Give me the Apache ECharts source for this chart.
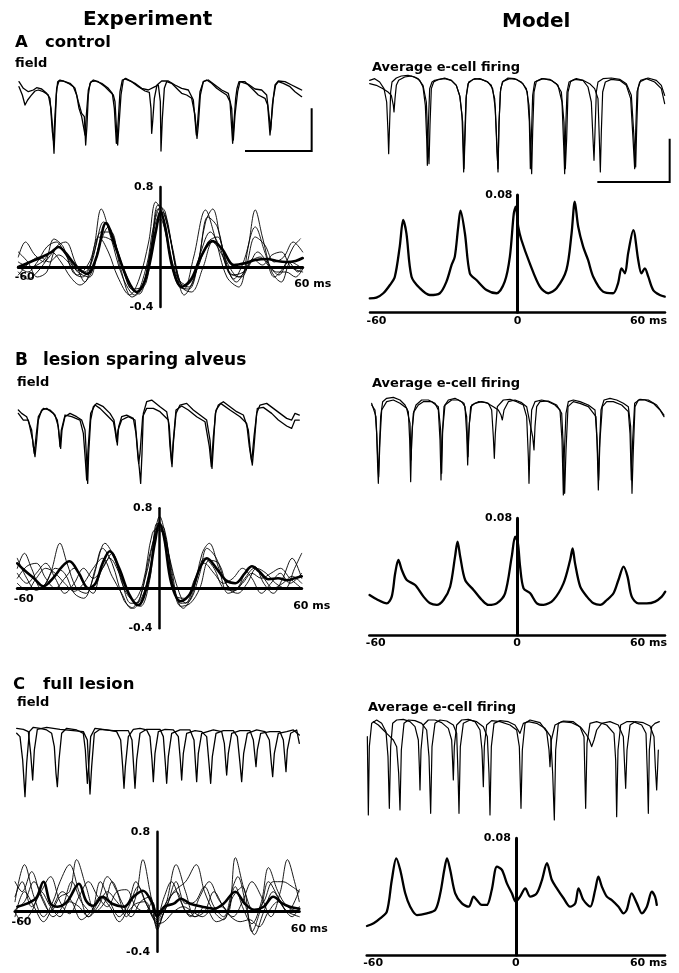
<!DOCTYPE html>
<html>
<head>
<meta charset="utf-8">
<script src="https://cdn.jsdelivr.net/npm/echarts@6/dist/echarts.min.js"></script>
<style>
html,body{margin:0;padding:0;background:#fff}
#fig{width:679px;height:973px}
</style>
</head>
<body>
<div id="fig"></div>
<script>
// ---------- tick labels ----------
const LAG_TICKS = [-60, 0, 60];          // ms
const EXP_Y_TICKS = [-0.4, 0.8];         // correlation coefficient
const MODEL_Y_TICKS = [0.08];            // firing probability

// ---------- A control: experiment, field potential (ms, mV) ----------
const EXP_A_FIELD_1 = [[3,-0.15],[5.5,-0.4],[7.5,-0.7],[9.5,-0.55],[12,-0.42],[15,-0.28],[17.5,-0.25],[21.25,-0.3],[25,-0.4],[27,-0.8],[28.25,-1.4],[29.25,-2.15],[30,-1.4],[31,-0.4],[32,0],[33.75,0.05],[37.5,0],[41.25,-0.05],[45,-0.2],[47.5,-0.6],[50,-0.95],[52,-1.05],[53,-1.9],[54,-1.3],[55,-0.4],[56.25,-0.05],[58.75,0.05],[62.5,0],[67.5,-0.15],[71.25,-0.3],[73.75,-0.4],[75,-0.6],[76.25,-1.5],[77,-1.9],[78,-1.3],[79.5,-0.4],[81.25,0.05],[83,0.1],[87.5,0],[90,-0.05],[95,-0.2],[100,-0.25],[105,-0.15],[107.5,-0.1],[109,-0.6],[109.5,-2.08],[110.5,-1.1],[112,-0.2],[113.75,0],[117.5,-0.05],[122.5,-0.25],[125,-0.35],[128.75,-0.4],[132.5,-0.5],[135,-1.0],[136.5,-1.7],[137.5,-1.3],[139,-0.4],[141.25,0],[143.75,0.05],[147.5,-0.05],[151.25,-0.2],[155,-0.3],[158.75,-0.4],[161.25,-0.6],[163.25,-1.85],[164.25,-1.2],[165.5,-0.5],[166.5,-0.2],[168,0],[172.5,0],[177.5,-0.2],[182.5,-0.4],[187.5,-0.5],[189.5,-0.7],[191.25,-1.6],[192,-1.3],[193.75,-0.5],[195.5,-0.1],[197.5,0],[201.25,-0.05],[206.25,-0.15],[210,-0.3],[215,-0.45]];
const EXP_A_FIELD_2 = [[3,0],[6.25,-0.2],[10,-0.3],[13.75,-0.25],[16.25,-0.18],[20,-0.22],[23.75,-0.35],[26.25,-0.5],[28,-1.5],[29,-1.8],[30,-1.0],[31.25,-0.2],[33,0.02],[36.25,0.02],[40,-0.05],[43.75,-0.15],[46.25,-0.4],[48,-0.8],[50,-1.05],[51.5,-1.1],[52.5,-1.6],[53.5,-1.0],[55,-0.25],[57,0],[60,0.02],[65,-0.05],[70,-0.2],[73,-0.35],[74.5,-0.8],[76,-1.85],[77,-1.45],[78.75,-0.3],[80.5,0.05],[82.5,0.08],[87.5,0],[92.5,-0.15],[97.5,-0.28],[100.75,-0.32],[102,-0.8],[102.5,-1.55],[103.25,-1.2],[104.5,-0.5],[106.5,-0.1],[110,0.02],[115,0.02],[120,-0.1],[125,-0.2],[130,-0.25],[133.75,-0.55],[136,-1.6],[137,-1.2],[138.75,-0.3],[141.25,0],[145,0.05],[150,-0.1],[155,-0.25],[160,-0.35],[162.5,-0.8],[163.75,-1.75],[165,-1.0],[167,-0.3],[168.75,0],[175,-0.08],[180,-0.22],[185,-0.25],[188.75,-0.4],[190.5,-1.0],[191.75,-1.45],[193,-0.7],[195,-0.1],[197.5,0.02],[202.5,0],[207.5,-0.1],[212.5,-0.2],[215,-0.25]];
const EXP_A_BAR = [[172.5,-2.08],[222.5,-2.08],[222.5,-0.8]];

// ---------- A control: model, average e-cell firing ----------
const MODEL_A_FIELD_1 = [[1.25,-0.05],[5,0],[8.75,-0.1],[12,-0.3],[14,-0.7],[15,-1.6],[15.5,-2.25],[16.25,-1.3],[17,-0.4],[18,-0.1],[21.25,0.02],[25,0.08],[30,0.1],[35,0.05],[38.75,-0.05],[41.25,-0.25],[43,-0.8],[44,-1.8],[44.5,-2.6],[45.25,-1.4],[46.25,-0.3],[48,-0.1],[50,-0.05],[53.75,-0.02],[57.5,0.02],[62.5,-0.05],[66.25,-0.2],[68.75,-0.5],[70.5,-1.1],[71.25,-2.1],[71.75,-2.8],[72.5,-1.8],[73.5,-0.6],[75,-0.15],[78.75,-0.02],[83.75,0],[88.75,-0.08],[92.5,-0.2],[95,-0.6],[96.5,-1.8],[97.5,-2.8],[98.25,-1.4],[99.25,-0.4],[100.75,-0.1],[105,0.02],[110,0],[115,-0.1],[118.75,-0.3],[120.75,-0.8],[122,-2.0],[122.75,-2.85],[123.5,-1.6],[124.5,-0.4],[126.25,-0.08],[131.25,0],[137.5,-0.05],[142.5,-0.2],[145.5,-0.7],[146.75,-2.0],[147.5,-2.85],[148.25,-1.5],[149.25,-0.4],[150.75,-0.1],[155,-0.02],[161.25,-0.05],[166.25,-0.15],[170,-0.3],[172.5,-0.6],[173.5,-1.8],[174.25,-2.8],[175,-1.6],[176,-0.4],[178,-0.1],[182.5,-0.02],[188.75,-0.05],[193.75,-0.2],[197,-0.6],[198.75,-1.8],[200,-2.7],[200.75,-1.6],[201.75,-0.4],[203.75,-0.1],[208.75,0],[215,-0.1],[220,-0.3],[222.5,-0.75]];
const MODEL_A_FIELD_2 = [[1.25,-0.15],[6.25,-0.2],[11.25,-0.3],[15,-0.4],[17.5,-0.5],[19,-0.8],[19.5,-1.0],[20.25,-0.6],[21.25,-0.2],[23,-0.05],[27.5,0.05],[32.5,0.08],[37.5,0],[41.25,-0.2],[43.75,-0.7],[45,-2.0],[45.75,-2.55],[46.5,-1.4],[47.5,-0.3],[49.25,-0.1],[53,-0.02],[57.5,0],[62.5,-0.05],[66.25,-0.2],[69,-0.55],[71,-1.3],[72,-2.7],[72.75,-1.8],[73.75,-0.5],[75.5,-0.1],[80,0],[85,-0.02],[90,-0.1],[93.5,-0.3],[95.5,-0.9],[96.75,-2.2],[97.5,-2.7],[98.25,-1.3],[99.5,-0.3],[101.25,-0.08],[106.25,0],[111.25,-0.02],[116.25,-0.15],[119.5,-0.4],[121,-1.3],[121.75,-2.7],[122.5,-1.8],[123.5,-0.5],[125,-0.1],[130,0],[136.25,-0.02],[141.25,-0.15],[145,-0.4],[147,-1.3],[148,-2.7],[149,-1.8],[150,-0.4],[152,-0.08],[156.25,0],[161.25,-0.05],[165,-0.25],[167.5,-0.7],[168.75,-1.8],[169.5,-2.45],[170.25,-1.6],[171.25,-0.4],[172.5,-0.1],[176.25,0],[182.5,0.02],[188.75,-0.02],[193.75,-0.15],[197.5,-0.5],[199.25,-1.6],[200.75,-2.65],[201.5,-1.5],[202.5,-0.3],[204.5,-0.05],[210,0.02],[216.25,-0.05],[220,-0.2],[222.5,-0.5]];
const MODEL_A_BAR = [[172,-3.1],[226.25,-3.1],[226.25,-1.8]];

// ---------- A control: cross-correlograms (lag ms, r) ----------
const EXP_A_XC_MEAN = [[-60,0.0],[-55,0.05],[-50,0.1],[-46,0.15],[-43,0.2],[-40,0.14],[-36,0.02],[-31,-0.07],[-27,0.1],[-23,0.44],[-19,0.2],[-14,-0.12],[-10,-0.25],[-6,-0.1],[-2,0.35],[0,0.55],[2,0.4],[5,0.0],[9,-0.2],[13,-0.12],[17,0.1],[22,0.26],[26,0.18],[31,0.02],[36,0.04],[40,0.07],[45,0.08],[49,0.06],[53,0.05],[57,0.06],[60,0.09]];
const EXP_A_XC_1 = [[-60,0.15],[-56,0.05],[-52,-0.1],[-48,-0.05],[-44,0.2],[-40,0.25],[-36,0.05],[-32,-0.15],[-28,0.2],[-25,0.58],[-21,0.3],[-16,-0.1],[-11,-0.28],[-6,0.0],[-3,0.4],[0,0.6],[3,0.4],[7,-0.05],[10,-0.22],[14,0.1],[19,0.57],[23,0.3],[28,-0.1],[33,-0.2],[37,0.2],[40,0.57],[43,0.3],[47,-0.05],[51,-0.15],[55,0.05],[59,0.0]];
const EXP_A_XC_2 = [[-60,0.1],[-57,0.25],[-53,0.12],[-49,0.05],[-45,0.28],[-41,0.2],[-37,-0.05],[-33,-0.1],[-29,0.05],[-25,0.35],[-21,0.35],[-17,0.0],[-12,-0.3],[-8,-0.22],[-4,0.2],[-1,0.62],[2,0.55],[6,0.05],[10,-0.28],[15,-0.05],[19,0.45],[22,0.58],[26,0.2],[31,-0.12],[35,0.05],[40,0.4],[44,0.15],[48,-0.1],[52,0.0],[56,0.2],[59,0.28]];
const EXP_A_XC_3 = [[-60,-0.05],[-56,-0.12],[-52,-0.05],[-47,0.1],[-43,0.2],[-39,0.1],[-35,-0.05],[-30,-0.1],[-26,0.2],[-22,0.4],[-18,0.15],[-13,-0.2],[-9,-0.27],[-5,0.05],[-2,0.45],[1,0.55],[4,0.3],[8,-0.15],[12,-0.2],[17,0.15],[21,0.35],[25,0.2],[29,-0.05],[34,-0.1],[38,0.05],[42,0.1],[46,0.0],[50,-0.08],[54,0.05],[58,-0.05],[60,0.0]];
const EXP_A_XC_4 = [[-60,0.05],[-55,0.0],[-50,0.05],[-46,0.15],[-42,0.05],[-38,-0.1],[-34,-0.18],[-29,-0.05],[-24,0.3],[-20,0.25],[-15,-0.05],[-10,-0.25],[-6,-0.15],[-3,0.3],[0,0.48],[3,0.25],[7,-0.1],[11,-0.18],[15,-0.05],[20,0.25],[24,0.3],[28,0.05],[33,-0.1],[37,0.0],[41,0.15],[45,0.05],[49,-0.05],[53,-0.05],[57,-0.1],[60,-0.02]];
const EXP_A_XC_5 = [[-60,0.0],[-56,-0.05],[-52,0.05],[-48,0.2],[-44,0.25],[-40,0.12],[-36,-0.02],[-32,-0.05],[-28,0.15],[-24,0.45],[-20,0.3],[-16,0.0],[-12,-0.22],[-8,-0.2],[-4,0.15],[-1,0.58],[2,0.5],[5,0.2],[9,-0.2],[13,-0.25],[18,0.0],[22,0.25],[26,0.12],[30,-0.08],[35,-0.05],[39,0.08],[43,0.02],[47,0.12],[51,0.15],[55,0.0],[60,-0.05]];
const EXP_A_XC_6 = [[-60,-0.08],[-55,0.05],[-51,0.1],[-47,0.05],[-43,0.12],[-39,0.05],[-35,-0.08],[-30,0.05],[-26,0.3],[-22,0.15],[-18,-0.1],[-13,-0.28],[-9,-0.12],[-5,0.25],[-2,0.65],[1,0.52],[4,0.1],[8,-0.2],[12,-0.22],[16,0.05],[20,0.5],[24,0.4],[28,0.0],[32,-0.15],[36,0.0],[40,0.3],[44,0.22],[48,0.05],[52,0.1],[56,0.25],[60,0.15]];
const MODEL_A_XC = [[-60.1,0.0095],[-57.4,0.01],[-54.6,0.013],[-51.9,0.0186],[-49.9,0.0243],[-47.9,0.0448],[-46.5,0.063],[-45.2,0.054],[-43.1,0.0243],[-39.7,0.0164],[-35.7,0.0118],[-31.6,0.013],[-28.9,0.0209],[-26.8,0.0323],[-25.5,0.038],[-24.1,0.0584],[-23.2,0.0693],[-21.4,0.0539],[-19.4,0.0266],[-16.7,0.022],[-12.6,0.0152],[-8.5,0.013],[-5.2,0.0209],[-3.1,0.038],[-1.5,0.0675],[-0.7,0.072],[0.3,0.0584],[1.6,0.0493],[5.0,0.0334],[9.1,0.0175],[12.5,0.013],[15.9,0.0164],[19.9,0.0289],[22.0,0.0539],[23.3,0.0755],[24.7,0.0584],[26.7,0.0448],[28.7,0.0357],[30.8,0.0243],[34.8,0.0141],[38.9,0.013],[40.9,0.0198],[42.3,0.03],[43.7,0.0266],[45.0,0.0402],[47.1,0.0561],[49.1,0.0357],[50.4,0.0266],[51.8,0.03],[53.2,0.0243],[55.2,0.0152],[57.9,0.0118],[59.9,0.0107]];

// ---------- B lesion sparing alveus ----------
const EXP_B_FIELD_1 = [[13.75,-0.2],[16.25,-0.3],[20,-0.4],[23.75,-0.8],[25,-1.3],[26.25,-1.6],[27.5,-1.1],[28.75,-0.5],[31.25,-0.2],[35,-0.15],[40,-0.3],[43,-0.5],[44.5,-1.0],[45.5,-1.35],[46.5,-0.8],[48.75,-0.4],[52.5,-0.3],[57.5,-0.4],[61.25,-0.5],[63.75,-0.8],[65,-1.7],[65.75,-2.4],[66.5,-1.5],[68,-0.5],[70,-0.1],[72.5,0],[77.5,-0.1],[82.5,-0.3],[85.5,-0.5],[87,-0.9],[88,-1.25],[89,-0.7],[91.25,-0.4],[95,-0.35],[100,-0.45],[102,-0.9],[103.25,-1.5],[104.5,-1.95],[105.5,-2.4],[106.5,-1.5],[107.5,-0.3],[110,0.05],[113.75,0.1],[120,-0.1],[125,-0.25],[127,-0.7],[128.25,-1.5],[129,-1.9],[130,-1.2],[132,-0.3],[135,-0.05],[140,0],[145,-0.2],[150,-0.35],[155,-0.5],[157.5,-1.1],[159,-1.95],[160,-1.3],[161.5,-0.3],[163.75,-0.05],[167.5,0.05],[172.5,-0.1],[177.5,-0.25],[182.5,-0.35],[186.25,-0.8],[188,-1.5],[189.25,-1.85],[190.5,-1.3],[192.5,-0.3],[195,-0.05],[200,0],[205,-0.15],[210,-0.3],[215,-0.45],[218.75,-0.5],[221.25,-0.3],[224.5,-0.35]];
const EXP_B_FIELD_2 = [[13.75,-0.3],[17.5,-0.5],[21.25,-0.5],[24.5,-1.1],[25.75,-1.5],[27,-1.0],[28.75,-0.4],[32.5,-0.15],[37.5,-0.2],[41.25,-0.35],[43.75,-0.7],[45,-1.3],[46,-0.8],[48.75,-0.35],[53.75,-0.4],[60,-0.5],[62.5,-0.9],[64,-1.7],[65,-2.3],[66,-1.4],[68,-0.3],[71.25,-0.05],[75,-0.15],[80,-0.35],[85,-0.55],[86.25,-0.8],[87.5,-1.15],[88.5,-0.8],[91.25,-0.5],[96.25,-0.4],[101.25,-0.5],[103,-1.3],[104,-1.8],[105,-1.5],[107,-0.4],[110,-0.15],[115,-0.15],[120,-0.25],[126.25,-0.5],[127.5,-1.3],[128.75,-1.8],[130,-1.1],[132,-0.2],[136.25,-0.08],[141.25,-0.2],[147.5,-0.4],[153.75,-0.55],[157,-1.3],[158.5,-1.9],[160,-1.0],[162,-0.2],[165.5,0],[172.5,-0.2],[180,-0.4],[185,-0.6],[187,-1.3],[188.75,-1.75],[190.5,-1.0],[193,-0.15],[197.5,-0.12],[203.75,-0.3],[208.75,-0.5],[215,-0.68],[218.75,-0.75],[221.25,-0.5],[224.5,-0.5]];
const MODEL_B_FIELD_1 = [[23.75,-0.15],[26.25,-0.3],[27.5,-1.0],[28.25,-2.0],[28.75,-2.5],[29.5,-1.5],[30.5,-0.5],[32,-0.05],[35,0.05],[40,0.08],[45,0],[48.75,-0.15],[51.25,-0.35],[52.25,-1.2],[53,-2.45],[53.75,-1.2],[55,-0.4],[57,-0.15],[61.25,0],[66.25,0],[71.25,-0.1],[73.75,-0.3],[75,-1.2],[75.75,-2.4],[76.5,-1.2],[78,-0.2],[81.25,0],[86.25,0.05],[91.25,-0.05],[93.75,-0.2],[95,-1.0],[95.75,-1.95],[96.5,-1.0],[98,-0.2],[101.25,-0.1],[106.25,-0.05],[111.25,-0.1],[113.75,-0.3],[115,-1.1],[115.75,-1.75],[116.5,-1.0],[118,-0.2],[122.5,0],[127.5,0.02],[132.5,-0.05],[137.5,-0.15],[140,-0.5],[141.25,-1.7],[141.75,-2.5],[142.5,-1.4],[143.75,-0.3],[146.25,-0.05],[151.25,0],[156.25,-0.05],[161.25,-0.15],[165,-0.3],[166.5,-1.2],[167.5,-2.85],[168.25,-1.6],[169.5,-0.4],[171.25,-0.05],[175,0],[180,-0.05],[186.25,-0.15],[191.25,-0.3],[192.75,-1.2],[193.75,-2.7],[194.5,-1.5],[195.75,-0.3],[198,0],[202.5,0.05],[207.5,0],[212.5,-0.1],[216.25,-0.2],[218,-0.8],[219,-2.8],[220,-1.5],[221.25,-0.2],[223.75,0],[228.75,0],[235,-0.1],[240,-0.3],[243,-0.5]];
const MODEL_B_FIELD_2 = [[23.75,-0.1],[27,-0.5],[28.25,-1.7],[29,-2.3],[30,-1.2],[31.25,-0.3],[35,-0.05],[40,0],[45,-0.1],[50,-0.25],[52.5,-0.7],[53.25,-1.8],[54.25,-0.8],[55.5,-0.35],[58.75,-0.15],[62.5,-0.05],[68.75,-0.05],[73.75,-0.2],[75.5,-0.9],[76.25,-2.2],[77,-0.9],[78.75,-0.15],[83.75,0],[88.75,0],[93,-0.1],[95,-0.5],[96,-1.7],[97,-0.7],[98.75,-0.15],[103.75,-0.05],[110,-0.08],[115,-0.2],[118.75,-0.3],[120.75,-0.45],[121.75,-0.6],[123,-0.3],[126.25,-0.05],[131.25,0],[136.25,-0.08],[140,-0.2],[142.5,-0.7],[144.5,-1.1],[145.5,-1.5],[146.25,-0.8],[147.5,-0.2],[150,-0.05],[156.25,-0.03],[162.5,-0.15],[166.25,-0.4],[167.5,-1.4],[168.5,-2.8],[169.5,-1.5],[171,-0.2],[175,-0.05],[180,-0.1],[186.25,-0.2],[192,-0.5],[193,-1.4],[194,-2.4],[195,-1.2],[196.75,-0.2],[200,-0.05],[205,-0.05],[211.25,-0.15],[216.25,-0.35],[217.5,-1.0],[218.5,-2.4],[219.5,-1.2],[221,-0.1],[225,0.02],[231.25,0],[237.5,-0.15],[243,-0.45]];
const EXP_B_XC_MEAN = [[-60,0.25],[-57,0.18],[-53,0.1],[-49,0.02],[-45,0.1],[-41,0.22],[-38,0.27],[-34,0.15],[-30,0.0],[-27,0.05],[-24,0.25],[-21,0.37],[-17,0.2],[-13,-0.05],[-9,-0.17],[-5,0.05],[-2,0.45],[0,0.65],[2,0.5],[5,0.05],[9,-0.13],[13,-0.05],[17,0.2],[20,0.3],[24,0.2],[28,0.08],[32,0.05],[36,0.15],[39,0.22],[42,0.17],[46,0.09],[50,0.1],[54,0.08],[57,0.1],[60,0.12]];
const EXP_B_XC_1 = [[-60,0.3],[-56,0.1],[-52,-0.02],[-48,0.05],[-44,0.2],[-40,0.15],[-36,-0.05],[-32,-0.1],[-28,0.1],[-24,0.4],[-20,0.25],[-15,-0.12],[-11,-0.2],[-6,0.1],[-2,0.55],[0,0.72],[3,0.45],[6,0.0],[10,-0.2],[14,-0.05],[18,0.35],[21,0.45],[25,0.2],[29,-0.05],[33,0.0],[37,0.2],[40,0.22],[44,0.05],[48,-0.05],[52,0.1],[56,0.3],[60,0.1]];
const EXP_B_XC_2 = [[-60,0.2],[-57,0.35],[-54,0.2],[-50,0.0],[-46,0.15],[-42,0.45],[-39,0.25],[-35,0.0],[-31,-0.05],[-27,0.2],[-23,0.45],[-19,0.3],[-15,0.0],[-11,-0.12],[-7,0.05],[-3,0.55],[0,0.62],[3,0.35],[7,-0.08],[11,-0.1],[15,0.1],[19,0.25],[23,0.15],[27,0.05],[31,0.1],[35,0.2],[39,0.1],[43,-0.05],[47,0.05],[51,0.15],[55,0.05],[60,0.15]];
const EXP_B_XC_3 = [[-60,0.1],[-56,0.22],[-52,0.25],[-48,0.1],[-44,0.0],[-40,0.1],[-36,0.2],[-32,0.05],[-28,-0.05],[-25,0.15],[-21,0.3],[-17,0.15],[-12,-0.15],[-8,-0.12],[-4,0.2],[-1,0.58],[2,0.55],[5,0.2],[9,-0.15],[13,-0.12],[17,0.15],[20,0.4],[24,0.3],[28,0.05],[32,-0.02],[36,0.1],[40,0.2],[44,0.1],[48,0.0],[52,0.05],[56,0.12],[60,0.05]];
const EXP_B_XC_4 = [[-60,0.15],[-56,0.05],[-52,0.15],[-48,0.25],[-44,0.1],[-40,-0.05],[-36,0.05],[-32,0.2],[-28,0.1],[-24,0.2],[-20,0.35],[-16,0.1],[-12,-0.1],[-8,-0.18],[-4,0.1],[-1,0.65],[2,0.6],[5,0.15],[9,-0.18],[13,-0.15],[17,0.0],[21,0.28],[25,0.25],[29,0.0],[33,-0.05],[37,0.05],[41,0.2],[45,0.15],[49,0.05],[53,0.0],[57,0.2],[60,0.35]];
const EXP_B_XC_5 = [[-60,0.05],[-56,-0.02],[-52,0.1],[-48,0.2],[-44,0.15],[-40,0.05],[-36,-0.03],[-32,0.05],[-28,0.2],[-24,0.3],[-20,0.12],[-16,-0.05],[-12,-0.2],[-8,-0.08],[-4,0.35],[0,0.6],[3,0.42],[7,0.05],[11,-0.15],[15,0.05],[19,0.3],[23,0.2],[27,0.0],[31,-0.02],[35,0.05],[39,0.15],[43,0.1],[47,0.15],[51,0.2],[55,0.1],[60,0.0]];
const MODEL_B_XC = [[-59.9,0.0274],[-57.0,0.0245],[-52.9,0.0217],[-50.9,0.0263],[-49.5,0.0423],[-48.2,0.0514],[-46.8,0.0446],[-44.8,0.0377],[-41.4,0.0343],[-38.0,0.0263],[-35.3,0.0217],[-32.6,0.0206],[-29.9,0.024],[-27.2,0.0331],[-25.2,0.0537],[-24.2,0.064],[-23.1,0.0537],[-21.1,0.0377],[-17.7,0.0309],[-14.3,0.024],[-11.6,0.0206],[-8.3,0.0217],[-4.9,0.0286],[-2.2,0.0537],[-0.8,0.0674],[0.3,0.0629],[1.2,0.0469],[2.6,0.032],[5.3,0.0286],[8.0,0.0217],[10.7,0.0206],[14.7,0.024],[18.8,0.0354],[21.5,0.0514],[22.5,0.0594],[23.5,0.0491],[25.6,0.0331],[28.3,0.0263],[31.0,0.0217],[33.7,0.0206],[36.4,0.024],[39.1,0.0286],[41.1,0.0377],[43.2,0.0469],[44.8,0.04],[46.5,0.0263],[49.2,0.0217],[52.6,0.0217],[56.0,0.0229],[58.7,0.0263],[60.1,0.0297]];

// ---------- C full lesion ----------
const EXP_C_FIELD_1 = [[12.5,-0.1],[15,-0.2],[17,-0.9],[18.75,-2.0],[20,-1.0],[22,-0.05],[25,0.08],[30,0.05],[35,0],[38.75,-0.1],[40.75,-0.5],[42,-1.3],[43,-1.7],[44.25,-0.9],[46.25,-0.1],[50,0.05],[57.5,0],[62.5,-0.1],[64,-0.6],[65.5,-1.6],[66.5,-1.1],[68,-0.2],[71.25,0.05],[80,0],[87.5,-0.05],[90.5,-0.3],[92,-1.1],[93,-1.75],[94,-1.1],[96.25,-0.2],[100,0.02],[105,0.05],[110,0],[112.5,-0.2],[114,-0.9],[115,-1.55],[116.25,-0.7],[118.75,-0.05],[123.75,0.02],[130,0],[133.75,-0.2],[135.25,-0.9],[136.25,-1.5],[137.5,-0.7],[140,-0.1],[146.25,-0.02],[151.25,-0.05],[155,-0.2],[156.75,-1.0],[158,-1.6],[159.25,-0.8],[162,-0.1],[167.5,-0.02],[175,-0.02],[178,-0.2],[180,-1.0],[181.25,-1.55],[182.75,-0.7],[185.5,-0.1],[192.5,0],[198.75,-0.05],[202,-0.3],[203.5,-1.0],[204.5,-1.4],[205.75,-0.7],[208.75,-0.1],[215,-0.05],[220,0],[224.5,-0.15]];
const EXP_C_FIELD_2 = [[12.5,0.05],[17.5,0.02],[21.25,-0.05],[23,-0.7],[24.5,-1.5],[25.75,-0.6],[28,0.02],[35,0.08],[45,0.02],[55,-0.02],[62.5,-0.05],[65.5,-0.3],[66.75,-1.3],[67.5,-1.92],[68.75,-1.1],[70.75,-0.1],[75,0.02],[85,-0.02],[96.25,-0.02],[99,-0.3],[100.25,-1.1],[101.25,-1.75],[102.5,-0.9],[105,-0.1],[110,0.02],[120,0.02],[122.5,-0.2],[124,-1.0],[125,-1.6],[126.25,-0.8],[128.75,-0.1],[135,0],[142.5,0],[145.5,-0.3],[146.75,-1.1],[147.5,-1.55],[148.75,-0.7],[151.25,-0.1],[160,0],[166.25,-0.05],[168.25,-0.4],[169.5,-1.1],[170,-1.35],[171.25,-0.7],[173.75,-0.1],[180,-0.02],[187.5,-0.02],[190,-0.3],[191.25,-0.8],[192,-1.1],[193,-0.6],[195.5,-0.1],[202.5,-0.05],[210,-0.05],[212.5,-0.3],[213.75,-0.9],[214.5,-1.25],[215.5,-0.6],[218,-0.1],[222.5,0],[224.5,-0.4]];
const MODEL_C_FIELD_1 = [[20.5,-0.4],[21.25,-2.75],[22,-0.7],[23.75,0],[27.5,0.1],[31.25,0],[34.5,-0.25],[36,-1.0],[37,-2.55],[38,-0.7],[39.5,0],[42.5,0.1],[47.5,0.12],[52.5,0.05],[56.25,-0.1],[58.75,-0.5],[59.5,-1.3],[60,-2.0],[60.75,-0.8],[62.5,-0.05],[66.25,0.1],[71.25,0.1],[76.25,0.02],[81.25,-0.15],[83.75,-0.5],[84.5,-1.2],[85,-1.7],[85.75,-0.7],[87.5,-0.05],[91.25,0.1],[96.25,0.12],[101.25,0.05],[105,-0.2],[106.5,-0.8],[107.5,-1.9],[108.25,-0.7],[110,-0.05],[113.75,0.08],[120,0.05],[127.5,-0.05],[132.5,-0.2],[134.5,-0.7],[135.75,-2.55],[136.75,-0.8],[138.75,0],[142.5,0.1],[150,0.02],[155,-0.25],[156.75,-0.8],[157.5,-1.3],[158.5,-0.5],[161.25,-0.05],[166.25,0.05],[173.75,0.02],[180,-0.1],[183,-0.4],[184.25,-2.55],[185.25,-0.6],[187.5,0],[192.5,0.05],[200,-0.05],[205.5,-0.3],[206.75,-1.1],[207.5,-2.8],[208.5,-0.8],[210.5,-0.05],[215,0.05],[220,0.05],[226.25,-0.05],[229.5,-0.3],[230.5,-1.5],[231.25,-2.7],[232,-0.8],[233.75,-0.1],[236.25,0],[239.5,0.05]];
const MODEL_C_FIELD_2 = [[25,0.05],[28.75,-0.05],[32.5,-0.2],[35,-0.3],[37.5,-0.4],[40,-0.5],[42.5,-0.7],[44,-1.5],[45,-2.6],[46,-0.8],[48,0],[51.25,0.1],[56.25,0.08],[61.25,0],[65,-0.2],[66.75,-1.0],[68,-2.7],[69,-0.7],[71.25,0],[75,0.1],[80,0.07],[85,-0.05],[87.5,-0.3],[88.5,-1.5],[89.25,-2.7],[90.25,-0.7],[92.5,0],[97.5,0.1],[102.5,0.05],[107.5,-0.1],[110.5,-0.4],[111.75,-1.5],[112.5,-2.75],[113.5,-0.7],[115.5,0],[120,0.08],[126.25,0.05],[131.25,-0.05],[135,-0.3],[137.5,0],[141.25,0.05],[147.5,0],[153.75,-0.15],[158,-0.4],[159.5,-1.5],[160.75,-2.9],[161.75,-0.8],[163.75,0],[167.5,0.07],[175,0.05],[181.25,-0.15],[185,-0.35],[187,-0.5],[188.75,-0.7],[190.5,-0.5],[192.5,-0.2],[196.25,0],[202.5,0.05],[208.75,-0.05],[212.5,-0.4],[213.5,-1.3],[214.25,-1.95],[215.25,-0.8],[217.5,-0.05],[221.25,0.05],[227.5,0.02],[232.5,-0.08],[235.5,-0.4],[236.5,-1.3],[237.5,-2.0],[238.25,-1.3],[238.75,-0.8]];
const EXP_C_XC_MEAN = [[-59,0.05],[-55,0.08],[-51,0.14],[-48,0.3],[-45,0.08],[-42,0.05],[-38,0.1],[-33,0.28],[-30,0.11],[-27,0.06],[-23,0.15],[-19,0.08],[-14,0.05],[-10,0.15],[-6,0.21],[-2,0.08],[0,-0.05],[3,0.05],[7,0.08],[10,0.13],[14,0.08],[19,0.05],[24,0.03],[28,0.08],[33,0.2],[37,0.08],[41,0.02],[45,0.05],[49,0.15],[53,0.08],[56,0.05],[60,0.03]];
const EXP_C_XC_1 = [[-60,0.1],[-56,0.47],[-52,0.15],[-48,-0.05],[-44,0.1],[-41,0.3],[-37,0.47],[-33,0.2],[-29,-0.05],[-25,0.1],[-21,0.35],[-17,0.2],[-13,-0.05],[-9,0.15],[-6,0.52],[-3,0.2],[0,-0.15],[4,0.1],[8,0.47],[12,0.2],[16,-0.05],[20,0.0],[24,0.2],[28,0.05],[32,-0.05],[36,0.1],[40,0.3],[44,0.15],[48,-0.05],[52,0.2],[55,0.52],[58,0.3],[60,0.1]];
const EXP_C_XC_2 = [[-60,0.3],[-57,0.2],[-53,0.4],[-49,0.15],[-45,0.0],[-41,0.15],[-37,0.2],[-34,0.52],[-30,0.25],[-26,0.0],[-22,0.1],[-19,0.3],[-15,0.1],[-11,-0.05],[-7,0.1],[-3,0.15],[0,-0.18],[3,0.0],[7,0.2],[12,0.3],[16.5,0.47],[20,0.2],[24,0.0],[28,-0.08],[32,0.15],[36,0.25],[40,-0.2],[44,0.05],[47,0.3],[51,0.15],[55,0.0],[60,0.22]];
const EXP_C_XC_3 = [[-60,0.02],[-56,0.1],[-52,0.3],[-48,0.12],[-44,-0.05],[-40,0.05],[-36,0.3],[-32,0.1],[-28,0.0],[-24,0.3],[-20,0.1],[-16,-0.05],[-12,0.1],[-9,0.3],[-5,0.1],[0,-0.1],[4,0.05],[8,0.3],[12,0.08],[16,0.1],[20,0.25],[24,0.05],[28,-0.05],[32,0.25],[34,0.35],[38,0.0],[41,-0.23],[45,0.0],[49,0.2],[53,0.05],[57,-0.05],[60,0.05]];
const EXP_C_XC_4 = [[-60,-0.05],[-56,0.2],[-52,0.05],[-48,-0.1],[-44,0.05],[-40,0.2],[-36,0.1],[-32,-0.08],[-28,0.0],[-24,0.15],[-20,0.05],[-16,-0.1],[-12,0.05],[-8,0.25],[-4,0.05],[0,-0.08],[4,0.1],[8,0.2],[12,0.0],[16,-0.05],[20,0.05],[25,-0.1],[29,-0.05],[33,0.25],[36,0.05],[40,-0.12],[44,0.1],[47,0.44],[51,0.2],[55,0.05],[60,0.0]];
const EXP_C_XC_5 = [[-60,0.15],[-57,0.3],[-53,0.05],[-49,0.2],[-45,0.35],[-41,0.1],[-37,-0.02],[-33,0.15],[-29,0.3],[-25,0.15],[-21,0.05],[-17,0.2],[-13,0.22],[-9,0.05],[-5,0.0],[-2,0.1],[0,-0.05],[3,0.15],[6,0.3],[10,0.1],[14,-0.05],[18,0.15],[22,0.3],[26,0.12],[30,0.0],[33,0.54],[37,0.2],[41,0.0],[45,0.1],[49,0.3],[53,0.3],[57,0.25],[60,0.2]];
const EXP_C_XC_6 = [[-60,0.0],[-57,-0.1],[-53,0.0],[-49,0.2],[-45,0.05],[-41,-0.05],[-37,0.1],[-33,0.05],[-29,-0.05],[-25,0.05],[-21,0.2],[-17,0.1],[-13,0.0],[-9,0.08],[-5,0.1],[-2,-0.05],[0,-0.12],[3,-0.1],[7,0.0],[11,0.05],[15,0.0],[19,-0.05],[23,0.02],[27,0.05],[31,-0.05],[35,-0.1],[39,-0.08],[43,-0.15],[47,0.0],[51,0.1],[55,0.0],[60,-0.05]];
const MODEL_C_XC = [[-59.9,0.0199],[-57.2,0.0217],[-54.6,0.0251],[-51.9,0.0297],[-49.9,0.0514],[-48.1,0.0663],[-46.5,0.0583],[-44.5,0.0423],[-42.5,0.0331],[-39.8,0.0274],[-35.8,0.0286],[-32.4,0.0309],[-30.4,0.0423],[-28.8,0.0583],[-27.7,0.0663],[-26.4,0.0583],[-24.4,0.0423],[-21.7,0.0354],[-19.0,0.0331],[-17.0,0.04],[-15.7,0.0377],[-13.7,0.0343],[-11.7,0.0343],[-9.7,0.0446],[-7.6,0.0606],[-5.6,0.0583],[-3.6,0.0491],[-1.6,0.0423],[0.0,0.0366],[1.7,0.04],[3.8,0.0457],[5.8,0.04],[8.4,0.0423],[10.5,0.0514],[12.5,0.0629],[14.5,0.0514],[16.5,0.0457],[19.2,0.0389],[21.8,0.0331],[23.9,0.0354],[25.2,0.0457],[27.2,0.0377],[29.9,0.0331],[31.9,0.0446],[33.2,0.0537],[34.6,0.0469],[36.6,0.04],[38.6,0.0377],[41.3,0.0331],[43.3,0.0286],[44.6,0.0309],[46.6,0.0423],[48.7,0.0354],[50.7,0.0286],[52.7,0.0331],[54.7,0.0434],[56.0,0.04],[56.7,0.0343]];

// ---------- figure assembly ----------
const FONT = '"DejaVu Sans", "Liberation Sans", Arial, sans-serif';
const grids = [], xAxes = [], yAxes = [], series = [];

function line(i, data, width, smooth) {
  series.push({
    type: 'line', xAxisIndex: i, yAxisIndex: i, data: data,
    symbol: 'none', smooth: smooth || false, clip: false, silent: true,
    lineStyle: { color: '#000', width: width, join: 'round', cap: 'round' },
    z: 2
  });
}

// raw field-potential trace panel (no axes drawn)
function fieldPanel(box, xr, yr, traces, width, bar) {
  const i = grids.length;
  grids.push({ left: box[0], top: box[1], width: box[2], height: box[3] });
  xAxes.push({ gridIndex: i, type: 'value', min: xr[0], max: xr[1], show: false });
  yAxes.push({ gridIndex: i, type: 'value', min: yr[0], max: yr[1], show: false });
  traces.forEach(t => line(i, t, width, false));
  if (bar) {
    series.push({ type: 'line', xAxisIndex: i, yAxisIndex: i, data: bar, symbol: 'none', clip: false, silent: true,
      lineStyle: { color: '#000', width: 2, join: 'miter', cap: 'butt' } });
  }
}

const labelBase = { fontFamily: FONT, fontWeight: 'bold', fontSize: 11, color: '#000' };

// lag axis: placed at value 0 of the vertical scale by shifting it up from the grid bottom
function lagAxis(i, model, shiftUp) {
  const [lo, mid, hi] = LAG_TICKS;
  return {
    gridIndex: i, type: 'value', min: lo, max: hi, interval: hi,
    position: 'bottom', offset: -shiftUp, z: 5,
    axisLine: { onZero: false, lineStyle: { color: '#000', width: model ? 2.5 : 3 } },
    axisTick: { show: false }, splitLine: { show: false },
    axisLabel: Object.assign({}, labelBase, {
      margin: model ? 3 : 5, showMinLabel: true, showMaxLabel: true, hideOverlap: false,
      formatter: v => v === lo ? '{l|' + lo + '}' : v === hi ? '{r|' + hi + ' ms}' : (model && v === mid ? '{z|' + mid + '}' : ''),
      rich: {
        l: Object.assign({}, labelBase, { padding: [0, 0, 0, 13] }),
        z: Object.assign({}, labelBase),
        r: Object.assign({}, labelBase, model ? { padding: [0, 33, 0, 0] } : { padding: [7, 0, 0, 20] })
      }
    })
  };
}

// vertical scale: drawn through lag 0, i.e. shifted right by half the grid width
function valueAxis(i, min, max, step, shown, width, shiftRight, margin) {
  return {
    gridIndex: i, type: 'value', min: min, max: max, interval: step,
    position: 'left', offset: -shiftRight, z: 5,
    axisLine: { onZero: false, lineStyle: { color: '#000', width: width } },
    axisTick: { show: false }, splitLine: { show: false },
    axisLabel: Object.assign({}, labelBase, {
      margin: margin, showMinLabel: true, showMaxLabel: true, hideOverlap: false,
      formatter: v => {
        const hit = shown.find(s => Math.abs(s - v) < 1e-9);
        return hit === undefined ? '' : String(hit);
      }
    })
  };
}

function expCorrPanel(box, mean, thin) {
  const i = grids.length;
  const [yMin, yMax] = EXP_Y_TICKS;
  grids.push({ left: box[0], top: box[1], width: box[2], height: box[3] });
  xAxes.push(lagAxis(i, false, box[3] * (0 - yMin) / (yMax - yMin)));
  yAxes.push(valueAxis(i, yMin, yMax, 0.4, EXP_Y_TICKS, 2.5, box[2] / 2, 7));
  thin.forEach(t => line(i, t, 0.9, 0.35));
  line(i, mean, 2.6, 0.35);
}

function modelCorrPanel(box, curve) {
  const i = grids.length;
  grids.push({ left: box[0], top: box[1], width: box[2], height: box[3] });
  xAxes.push(lagAxis(i, true, 0));
  yAxes.push(valueAxis(i, 0, MODEL_Y_TICKS[0], 0.04, MODEL_Y_TICKS, 3, box[2] / 2, 5));
  line(i, curve, 2.3, 0.3);
}

// A control
fieldPanel([15, 75, 300, 85], [0, 225], [-2.35, 0.2], [EXP_A_FIELD_1, EXP_A_FIELD_2], 1.3, EXP_A_BAR);
expCorrPanel([18.3, 187, 284.4, 120], EXP_A_XC_MEAN, [EXP_A_XC_1, EXP_A_XC_2, EXP_A_XC_3, EXP_A_XC_4, EXP_A_XC_5, EXP_A_XC_6]);
fieldPanel([368, 72, 305, 115], [0, 228.75], [-3.25, 0.2], [MODEL_A_FIELD_1, MODEL_A_FIELD_2], 1.2, MODEL_A_BAR);
modelCorrPanel([370, 195, 295, 117.3], MODEL_A_XC);

// B lesion sparing alveus
fieldPanel([0, 396.7, 340, 90], [0, 255], [-2.5, 0.2], [EXP_B_FIELD_1, EXP_B_FIELD_2], 1.3);
expCorrPanel([17.3, 508.3, 284.4, 120], EXP_B_XC_MEAN, [EXP_B_XC_1, EXP_B_XC_2, EXP_B_XC_3, EXP_B_XC_4, EXP_B_XC_5]);
fieldPanel([340, 390, 339, 110], [0, 254.25], [-3.0, 0.3], [MODEL_B_FIELD_1, MODEL_B_FIELD_2], 1.2);
modelCorrPanel([369.3, 518.3, 295.7, 116.7], MODEL_B_XC);

// C full lesion
fieldPanel([0, 723.3, 340, 76.7], [0, 255], [-2.1, 0.2], [EXP_C_FIELD_1, EXP_C_FIELD_2], 1.3);
expCorrPanel([15, 831.7, 284.3, 120], EXP_C_XC_MEAN, [EXP_C_XC_1, EXP_C_XC_2, EXP_C_XC_3, EXP_C_XC_4, EXP_C_XC_5, EXP_C_XC_6]);
fieldPanel([340, 715, 339, 110], [0, 254.25], [-3.05, 0.25], [MODEL_C_FIELD_1, MODEL_C_FIELD_2], 1.2);
modelCorrPanel([366.7, 838.3, 298.3, 116.7], MODEL_C_XC);

// headings and panel captions
function txt(s, x, y, size) {
  return { type: 'text', x: x, y: y, silent: true,
    style: { text: s, font: 'bold ' + size + 'px ' + FONT, fill: '#000',
      textAlign: 'left', textVerticalAlign: 'middle', align: 'left', verticalAlign: 'middle' } };
}
const graphic = [
  txt('Experiment', 83, 20, 20),
  txt('Model', 502, 21.5, 20),
  txt('A', 15, 42.3, 16.5), txt('control', 45, 42.3, 16.5),
  txt('field', 15, 63.5, 13),
  txt('Average e-cell firing', 372, 67.2, 13),
  txt('B', 15, 360.8, 17), txt('lesion sparing alveus', 43, 360.8, 17),
  txt('field', 17, 382.5, 13),
  txt('Average e-cell firing', 372, 383.8, 13),
  txt('C', 13, 684.3, 16.5), txt('full lesion', 43, 684.3, 16.5),
  txt('field', 17, 702.3, 13),
  txt('Average e-cell firing', 368, 707.3, 13)
];

const chart = echarts.init(document.getElementById('fig'), null, { renderer: 'canvas' });
chart.setOption({
  animation: false,
  backgroundColor: '#fff',
  grid: grids, xAxis: xAxes, yAxis: yAxes, series: series,
  graphic: graphic
});
</script>
</body>
</html>
